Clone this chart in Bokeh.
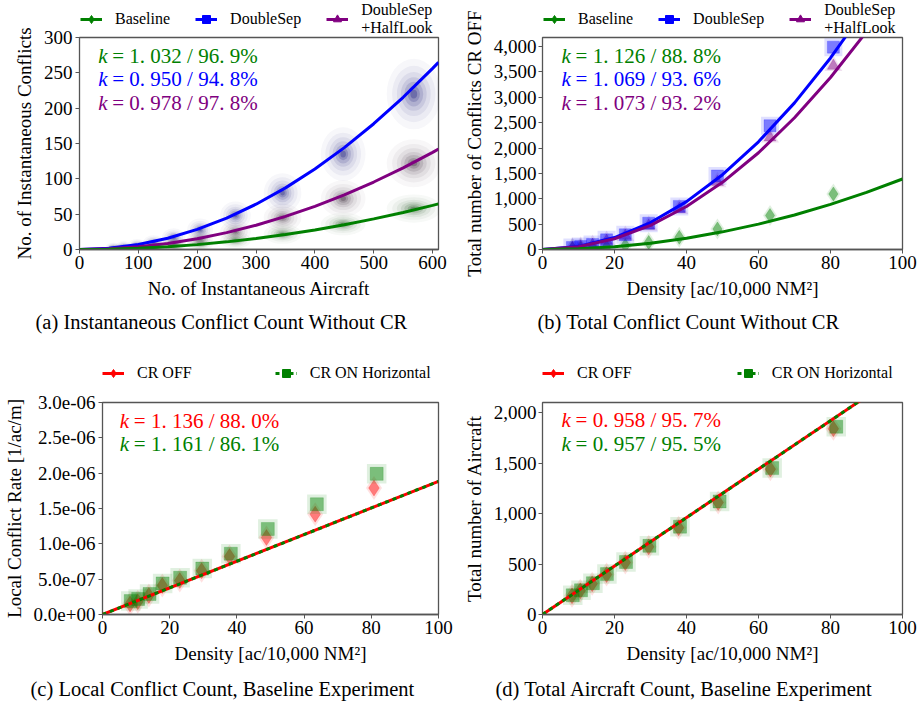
from bokeh.plotting import figure
from bokeh.layouts import column, row
from bokeh.models import (Range1d, FixedTicker, NumeralTickFormatter, CustomJSTickFormatter,
                          Legend, LegendItem, Label, Title)
from bokeh.embed import file_html
from bokeh.resources import INLINE

SERIF = "Liberation Serif"
GREEN = "#008000"
BLUE = "#0000ff"
PURPLE = "#800080"
RED = "#ff0000"
FRAME = "#555555"

# ---------------- panel (a): instantaneous conflicts ----------------
a_fit_x = [0, 50, 100, 150, 200, 250, 300, 350, 400, 450, 500, 550, 600, 610]
a_base_fit = [0, 0.4, 1.7, 3.9, 6.9, 10.8, 15.6, 21.2, 27.7, 35.1, 43.3, 52.4, 62.4, 64.5]
a_dsep_fit = [0, 1.8, 7.1, 16.0, 28.5, 44.5, 64.1, 87.2, 113.9, 144.2, 178.0, 215.4, 256.3, 264.9]
a_half_fit = [0, 1.0, 3.8, 8.6, 15.3, 23.9, 34.4, 46.8, 61.1, 77.3, 95.5, 115.6, 137.5, 142.1]

a_cloud_x = [58, 75, 98, 126, 160, 205, 265, 345, 448, 568]
a_cloud_sx = [7, 7, 8, 9, 10, 11, 13, 16, 19, 23]
a_base_y = [0.5, 1, 1.5, 3, 5, 8, 13, 22, 36, 58]
a_base_sy = [3, 3, 3, 3.5, 4, 5, 6, 7, 8, 10]
a_dsep_y = [2, 4, 6, 10, 17, 28, 48, 80, 135, 220]
a_dsep_sy = [4, 4, 4.5, 5, 6.5, 8, 10, 14, 19, 25]
a_half_y = [1, 2, 3, 5, 9, 15, 25, 45, 72, 122]
a_half_sy = [3, 3, 3.5, 4, 5, 6, 8, 10, 13, 17]
a_k_text = ["= 1. 032 / 96. 9%", "= 0. 950 / 94. 8%", "= 0. 978 / 97. 8%"]

# ---------------- panel (b): total conflicts ----------------
b_fit_x = [0, 10, 20, 30, 40, 50, 60, 70, 80, 90, 100]
b_base_fit = [0, 14, 56, 125, 222, 348, 500, 681, 890, 1126, 1390]
b_dsep_fit = [0, 59, 236, 531, 944, 1475, 2124, 2891, 3776, 4779, 5900]
b_half_fit = [0, 53, 212, 477, 848, 1325, 1908, 2597, 3392, 4293, 5300]
b_x = [8.3, 10.6, 13.9, 17.8, 23.0, 29.5, 38.0, 48.6, 63.2, 80.8]
b_base = [15, 20, 30, 48, 80, 140, 240, 405, 670, 1095]
b_dsep = [40, 60, 100, 190, 290, 520, 850, 1450, 2440, 3990]
b_half = [35, 55, 90, 170, 270, 470, 800, 1330, 2210, 3620]
b_k_text = ["= 1. 126 / 88. 8%", "= 1. 069 / 93. 6%", "= 1. 073 / 93. 2%"]

# ---------------- panel (c): local conflict rate ----------------
c_fit_x = [0, 100]
c_off_fit = [0, 1.884e-6]
c_on_fit = [0, 1.884e-6]
c_off_x = [8.2, 10.5, 13.8, 17.8, 23.0, 29.5, 37.8, 48.8, 63.3, 80.8]
c_off = [1.5e-7, 1.8e-7, 2.7e-7, 4.1e-7, 4.8e-7, 6.2e-7, 8.2e-7, 1.09e-6, 1.42e-6, 1.79e-6]
c_on_x = [8.4, 10.6, 14.0, 17.9, 23.1, 29.7, 38.2, 49.2, 63.8, 81.6]
c_on = [1.9e-7, 2.2e-7, 2.9e-7, 4.4e-7, 5.2e-7, 6.5e-7, 8.6e-7, 1.21e-6, 1.56e-6, 1.99e-6]
c_ticks = [0, 5e-7, 1e-6, 1.5e-6, 2e-6, 2.5e-6, 3e-6]
c_k_text = ["= 1. 136 / 88. 0%", "= 1. 161 / 86. 1%"]

# ---------------- panel (d): total aircraft ----------------
d_fit_x = [0, 100]
d_off_fit = [0, 2400]
d_on_fit = [0, 2400]
d_off_x = [8.2, 10.5, 13.8, 17.8, 23.0, 29.5, 37.8, 48.8, 63.3, 80.8]
d_off = [185, 235, 305, 395, 515, 670, 860, 1110, 1440, 1840]
d_on_x = [8.4, 10.7, 14.0, 17.9, 23.2, 29.7, 38.2, 49.2, 63.8, 81.6]
d_on = [190, 240, 310, 400, 520, 680, 870, 1120, 1450, 1860]
d_k_text = ["= 0. 958 / 95. 7%", "= 0. 957 / 95. 5%"]

x_a_ticks = [0, 100, 200, 300, 400, 500, 600]
y_a_ticks = [0, 50, 100, 150, 200, 250, 300]
x_dens_ticks = [0, 20, 40, 60, 80, 100]
y_b_ticks = [0, 500, 1000, 1500, 2000, 2500, 3000, 3500, 4000]
y_d_ticks = [0, 500, 1000, 1500, 2000]

top_labels = ["Baseline", "DoubleSep", "DoubleSep\n+HalfLook"]
bottom_labels = ["CR OFF", "CR ON Horizontal"]

DENS_LABEL = "Density [ac/10,000 NM\u00b2]"


def style_axis(ax):
    ax.major_tick_in = 0
    ax.major_tick_out = 4
    ax.major_tick_line_color = FRAME
    ax.minor_tick_line_color = None
    ax.major_label_text_font = SERIF
    ax.major_label_text_font_size = "19px"
    ax.major_label_text_color = "black"
    ax.major_label_standoff = 2
    ax.axis_label_text_font = SERIF
    ax.axis_label_text_font_size = "19px"
    ax.axis_label_text_font_style = "normal"
    ax.axis_label_text_color = "black"
    ax.axis_label_standoff = 6


def plot_fig(w, h, br, bt, bb, xr, yr, yticks):
    # data panel: frame, x axis and y tick marks; y tick labels live in a neighbouring figure
    p = figure(width=w, height=h, x_range=xr, y_range=yr,
               output_backend="svg", toolbar_location=None,
               min_border_left=5, min_border_right=br,
               min_border_top=bt, min_border_bottom=bb)
    p.xgrid.visible = False
    p.ygrid.visible = False
    p.outline_line_color = FRAME
    p.outline_line_width = 1.3
    p.background_fill_color = "white"
    p.border_fill_color = "white"
    p.xaxis.axis_line_color = FRAME
    p.xaxis.axis_line_width = 1.3
    style_axis(p.xaxis[0])
    p.yaxis.axis_line_color = None
    p.yaxis.ticker = FixedTicker(ticks=yticks)
    p.yaxis.major_tick_in = 0
    p.yaxis.major_tick_out = 4
    p.yaxis.major_tick_line_color = FRAME
    p.yaxis.minor_tick_line_color = None
    p.yaxis.major_label_standoff = 0
    p.yaxis.formatter = CustomJSTickFormatter(code="return '';")
    return p


def yaxis_fig(w, h, bt, bb, yr, yticks, label):
    # narrow figure carrying the y tick labels and the y title over the full height
    p = figure(width=w, height=h, x_range=Range1d(0, 1), y_range=yr,
               output_backend="svg", toolbar_location=None, x_axis_location=None,
               min_border_left=w - 1, min_border_right=0, min_border_top=bt,
               min_border_bottom=bb)
    p.xgrid.visible = False
    p.ygrid.visible = False
    p.outline_line_color = None
    p.yaxis.axis_line_color = None
    p.yaxis.axis_label = label
    p.yaxis.ticker = FixedTicker(ticks=yticks)
    style_axis(p.yaxis[0])
    p.yaxis.major_tick_out = 0
    p.yaxis.major_tick_line_color = None
    p.yaxis.major_label_standoff = 1
    return p


def legend_fig(w, h, labels, colors, markers, dashes, loc, spacing):
    p = figure(width=w, height=h, x_range=Range1d(0, 1), y_range=Range1d(0, 1),
               output_backend="svg", toolbar_location=None,
               x_axis_location=None, y_axis_location=None, min_border=0)
    p.xgrid.visible = False
    p.ygrid.visible = False
    p.outline_line_color = None
    items = []
    for lab, c, m, d in zip(labels, colors, markers, dashes):
        # legend-key renderers, kept outside the visible range
        r = p.line([-3, -2], [-3, -2], line_color=c, line_width=3, line_dash=d)
        s = p.scatter([-3], [-3], marker=m, fill_color=c, line_color=c)
        items.append(LegendItem(label=lab, renderers=[r, s]))
    lg = Legend(items=items, orientation="horizontal", location=loc, glyph_width=22,
                glyph_height=20, label_standoff=13, spacing=spacing, padding=0, margin=0,
                border_line_color=None, background_fill_alpha=0, label_text_color="black",
                label_text_font=SERIF, label_text_font_size="16px", label_height=18)
    p.add_layout(lg)
    return p


def caption_fig(w, h, text, offset, top):
    p = figure(width=w, height=h, x_range=Range1d(0, 1), y_range=Range1d(0, 1),
               output_backend="svg", toolbar_location=None,
               x_axis_location=None, y_axis_location=None, min_border_left=0,
               min_border_right=0, min_border_bottom=0, min_border_top=top)
    p.xgrid.visible = False
    p.ygrid.visible = False
    p.outline_line_color = None
    p.add_layout(Title(text=text, align="left", offset=offset, text_font=SERIF,
                       text_font_size="20.5px", text_font_style="normal", text_color="black",
                       standoff=0), "above")
    return p


def add_k(p, texts, colors, x, ys):
    for t, c, y in zip(texts, colors, ys):
        p.add_layout(Label(x=x, y=y, text="k", text_font=SERIF, text_font_size="21px",
                           text_font_style="italic", text_color=c, text_baseline="middle"))
        p.add_layout(Label(x=x, y=y, x_offset=14, text=t, text_font=SERIF,
                           text_font_size="21px", text_color=c, text_baseline="middle"))


def clouds(p, xs, sxs, ys, sys, color):
    for f, al in ((2.0, 0.035), (1.6, 0.05), (1.25, 0.07), (0.95, 0.1),
                  (0.7, 0.14), (0.45, 0.2), (0.25, 0.3)):
        p.ellipse(x=xs, y=ys, width=[2 * s * f for s in sxs], height=[2 * s * f for s in sys],
                  fill_color=color, fill_alpha=al, line_color=None)


def fuzzy(p, xs, ys, marker, color, size):
    p.scatter(xs, ys, marker=marker, size=size * 1.5, fill_color=color, fill_alpha=0.12,
              line_color=None)
    p.scatter(xs, ys, marker=marker, size=size, fill_color=color, fill_alpha=0.45,
              line_color=color, line_alpha=0.2)


TOP_C = [GREEN, BLUE, PURPLE]
TOP_M = ["diamond", "square", "triangle"]
TOP_D = ["solid", "solid", "solid"]
BOT_C = [RED, GREEN]
BOT_M = ["diamond", "square"]
BOT_D = ["solid", "4 3"]

# ---------- (a)
xr_a, yr_a = Range1d(0, 610), Range1d(0, 300)
ya = yaxis_fig(74, 303, 37, 54, yr_a, y_a_ticks, "No. of Instantaneous Conflicts")
la = legend_fig(386, 36, top_labels, TOP_C, TOP_M, TOP_D, (1, -1), 25)
pa = plot_fig(386, 267, 22, 1, 54, xr_a, yr_a, y_a_ticks)
pa.xaxis.ticker = FixedTicker(ticks=x_a_ticks)
pa.xaxis.axis_label = "No. of Instantaneous Aircraft"
clouds(pa, a_cloud_x, a_cloud_sx, a_base_y, a_base_sy, "#1f4f1f")
clouds(pa, a_cloud_x, a_cloud_sx, a_half_y, a_half_sy, "#3a2a3a")
clouds(pa, a_cloud_x, a_cloud_sx, a_dsep_y, a_dsep_sy, "#1a1a7a")
pa.line(a_fit_x, a_dsep_fit, line_color=BLUE, line_width=3)
pa.line(a_fit_x, a_half_fit, line_color=PURPLE, line_width=3)
pa.line(a_fit_x, a_base_fit, line_color=GREEN, line_width=3)
add_k(pa, a_k_text, [GREEN, BLUE, PURPLE], 31.8, [274, 241, 208])
ca = caption_fig(460, 37, "(a) Instantaneous Conflict Count Without CR", 35, 29)

# ---------- (b)
xr_b, yr_b = Range1d(0, 100), Range1d(0, 4180)
yb = yaxis_fig(77, 303, 37, 54, yr_b, y_b_ticks, "Total number of Conflicts CR OFF")
yb.yaxis.formatter = NumeralTickFormatter(format="0,0")
lb = legend_fig(382, 36, top_labels, TOP_C, TOP_M, TOP_D, (1, -1), 25)
pb = plot_fig(382, 267, 17, 1, 54, xr_b, yr_b, y_b_ticks)
pb.xaxis.ticker = FixedTicker(ticks=x_dens_ticks)
pb.xaxis.axis_label = DENS_LABEL
fuzzy(pb, b_x, b_base, "diamond", GREEN, 14)
fuzzy(pb, b_x, b_half, "triangle", PURPLE, 12)
fuzzy(pb, b_x, b_dsep, "square", BLUE, 12)
pb.line(b_fit_x, b_dsep_fit, line_color=BLUE, line_width=3)
pb.line(b_fit_x, b_half_fit, line_color=PURPLE, line_width=3)
pb.line(b_fit_x, b_base_fit, line_color=GREEN, line_width=3)
add_k(pb, b_k_text, [GREEN, BLUE, PURPLE], 5.3, [3817, 3358, 2898])
cb = caption_fig(459, 37, "(b) Total Conflict Count Without CR", 77, 29)

# ---------- (c)
xr_c, yr_c = Range1d(0, 100), Range1d(0, 3e-6)
yc = yaxis_fig(97, 328, 62, 54, yr_c, c_ticks, "Local Conflict Rate [1/ac/m]")
yc.yaxis.formatter = CustomJSTickFormatter(
    code="return tick.toExponential(1).replace(/e([+-])(\\d)$/, 'e$10$2');")
lc = legend_fig(363, 60, bottom_labels, BOT_C, BOT_M, BOT_D, (0, 17), 83)
pc = plot_fig(363, 268, 22, 2, 54, xr_c, yr_c, c_ticks)
pc.xaxis.ticker = FixedTicker(ticks=x_dens_ticks)
pc.xaxis.axis_label = DENS_LABEL
fuzzy(pc, c_off_x, c_off, "diamond", RED, 16)
fuzzy(pc, c_on_x, c_on, "square", GREEN, 13)
pc.line(c_fit_x, c_off_fit, line_color=RED, line_width=3)
pc.line(c_fit_x, c_on_fit, line_color=GREEN, line_width=3, line_dash="4 4")
add_k(pc, c_k_text, [RED, GREEN], 5.15, [2.745e-6, 2.416e-6])
cc = caption_fig(460, 38, "(c) Local Conflict Count, Baseline Experiment", 30, 31)

# ---------- (d)
xr_d, yr_d = Range1d(0, 100), Range1d(0, 2100)
yd = yaxis_fig(77, 328, 62, 54, yr_d, y_d_ticks, "Total number of Aircraft")
yd.yaxis.formatter = NumeralTickFormatter(format="0,0")
ld = legend_fig(382, 60, bottom_labels, BOT_C, BOT_M, BOT_D, (0, 17), 105)
pd_ = plot_fig(382, 268, 17, 2, 54, xr_d, yr_d, y_d_ticks)
pd_.xaxis.ticker = FixedTicker(ticks=x_dens_ticks)
pd_.xaxis.axis_label = DENS_LABEL
fuzzy(pd_, d_off_x, d_off, "diamond", RED, 16)
fuzzy(pd_, d_on_x, d_on, "square", GREEN, 13)
pd_.line(d_fit_x, d_off_fit, line_color=RED, line_width=3)
pd_.line(d_fit_x, d_on_fit, line_color=GREEN, line_width=3, line_dash="4 4")
add_k(pd_, d_k_text, [RED, GREEN], 5.3, [1922, 1691])
cd = caption_fig(459, 38, "(d) Total Aircraft Count, Baseline Experiment", 35, 31)

col_a = column(row(ya, column(la, pa)), ca)
col_b = column(row(yb, column(lb, pb)), cb)
col_c = column(row(yc, column(lc, pc)), cc)
col_d = column(row(yd, column(ld, pd_)), cd)
layout = column(row(col_a, col_b), row(col_c, col_d))
open("out.html", "w").write(file_html(layout, INLINE))
